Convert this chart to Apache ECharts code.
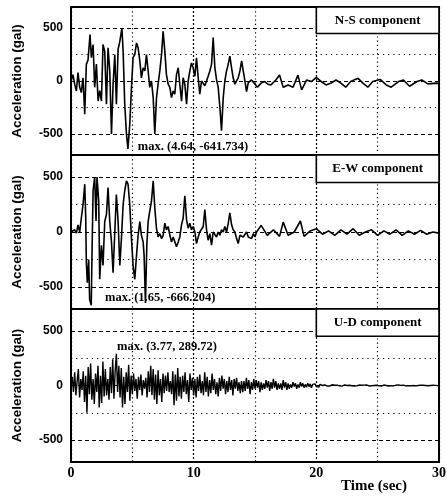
<!DOCTYPE html>
<html>
<head>
<meta charset="utf-8">
<script src="https://cdn.jsdelivr.net/npm/echarts@6/dist/echarts.min.js"></script>
<style>html,body{margin:0;padding:0;background:#fff;}#c{width:447px;height:497px;}</style>
</head>
<body>
<div id="c"></div>
<script>
// ---------- data ----------
const panelNames = ['N-S component', 'E-W component', 'U-D component'];
const maxLabels = ['max. (4.64, -641.734)', 'max. (1.65, -666.204)', 'max. (3.77, 289.72)'];
const xTicks = [0, 10, 20, 30];
const yTickLabels = [-500, 0, 500];

const nsData = [
[0.00,0],[0.16,60],[0.30,-30],[0.44,-95],[0.57,80],[0.71,-60],[0.84,-110],[0.98,30],[1.12,-315],[1.25,157],[1.39,200],[1.55,440],[1.66,220],[1.80,345],[1.93,-60],[2.07,160],[2.21,-190],[2.34,-90],[2.48,-190],[2.61,345],[2.75,280],[2.89,-220],[3.02,315],[3.16,95],[3.30,-500],[3.43,-30],[3.57,250],[3.70,-220],[3.84,300],[3.98,375],[4.15,500],[4.25,280],[4.38,-220],[4.52,-500],[4.64,-641.734],[4.79,-410],[4.93,-60],[5.06,220],[5.20,250],[5.34,360],[5.47,315],[5.61,190],[5.74,30],[5.88,125],[6.02,95],[6.15,250],[6.29,95],[6.42,-60],[6.56,0],[6.70,-157],[6.83,-500],[6.97,-157],[7.10,-30],[7.24,95],[7.38,250],[7.51,470],[7.65,280],[7.78,60],[7.92,-30],[8.06,-60],[8.19,-157],[8.33,-95],[8.46,-125],[8.60,60],[8.74,125],[8.87,-30],[9.01,-190],[9.14,30],[9.28,-30],[9.42,-220],[9.55,0],[9.69,95],[9.82,170],[9.96,125],[10.10,45],[10.23,220],[10.37,30],[10.50,-125],[10.64,0],[10.78,15],[10.91,-45],[11.05,0],[11.18,45],[11.32,95],[11.46,160],[11.59,410],[11.73,125],[11.86,15],[12.00,-60],[12.14,-250],[12.27,-470],[12.41,-157],[12.54,0],[12.68,95],[12.82,160],[12.95,235],[13.09,125],[13.22,30],[13.36,-30],[13.50,-30],[13.63,30],[13.77,95],[13.91,190],[14.04,95],[14.18,0],[14.31,-100],[14.45,-15],[14.59,-30],[14.72,10],[14.86,0],[15.20,-60],[15.50,-20],[15.80,-5],[16.05,-30],[16.30,-37],[16.70,10],[17.00,56],[17.30,-59],[17.70,-37],[18.10,-59],[18.50,56],[18.80,-84],[19.20,9],[19.60,-5],[20.00,35],[20.40,-5],[20.80,-37],[21.20,-20],[21.60,9],[22.00,-20],[22.40,-59],[22.80,-5],[23.40,25],[23.80,-20],[24.20,-59],[24.60,-5],[25.20,15],[25.70,-37],[26.10,-59],[26.70,-5],[27.10,9],[27.60,-50],[28.20,-5],[28.60,9],[29.10,-27],[29.80,-20],[30.00,-25]
];

const ewData = [
[0.00,0],[0.15,-10],[0.30,20],[0.44,-10],[0.57,65],[0.71,0],[0.84,125],[0.98,250],[1.12,435],[1.20,130],[1.25,-275],[1.33,-460],[1.44,-250],[1.52,-615],[1.65,-666.204],[1.71,-220],[1.80,375],[1.93,500],[2.04,100],[2.12,500],[2.26,280],[2.34,-430],[2.48,-120],[2.61,-305],[2.75,95],[2.89,160],[3.02,405],[3.16,95],[3.30,-90],[3.43,-370],[3.57,0],[3.70,340],[3.84,95],[3.98,-305],[4.11,-60],[4.25,250],[4.38,375],[4.52,465],[4.65,435],[4.79,250],[4.93,-60],[5.06,-305],[5.20,-430],[5.34,-215],[5.47,-30],[5.61,95],[5.74,-30],[5.88,-90],[5.96,-215],[6.07,-645],[6.18,-120],[6.29,95],[6.42,190],[6.56,280],[6.70,465],[6.83,220],[6.97,30],[7.10,-45],[7.24,-15],[7.38,-60],[7.51,-30],[7.65,80],[7.78,20],[7.92,50],[8.06,-30],[8.19,-90],[8.33,-45],[8.46,-30],[8.60,-135],[8.74,-90],[8.87,-45],[9.01,65],[9.14,125],[9.28,330],[9.42,110],[9.55,35],[9.69,80],[9.82,20],[9.96,50],[10.10,0],[10.23,-105],[10.37,-45],[10.50,0],[10.64,-15],[10.78,50],[10.91,205],[11.05,20],[11.18,-75],[11.32,-15],[11.46,-120],[11.59,0],[11.73,-15],[11.86,-45],[12.00,0],[12.14,-30],[12.27,20],[12.41,0],[12.54,50],[12.68,0],[12.82,80],[12.95,175],[13.09,65],[13.22,20],[13.36,0],[13.50,-60],[13.63,-105],[13.77,-30],[13.91,-15],[14.04,-45],[14.18,-30],[14.31,0],[14.45,-45],[14.59,-30],[14.72,-60],[14.86,-15],[14.99,-45],[15.13,0],[15.50,60],[16.00,-30],[16.50,20],[17.00,-40],[17.30,90],[17.70,-30],[18.20,0],[18.70,100],[19.00,-40],[19.50,10],[20.00,30],[20.50,-20],[21.00,10],[21.50,-30],[22.00,20],[22.50,-20],[23.00,30],[23.50,-30],[24.00,0],[24.50,20],[25.00,-30],[25.50,10],[26.00,-20],[26.50,20],[27.00,-30],[27.50,10],[28.00,-20],[28.50,15],[29.00,-20],[29.50,0],[30.00,-10]
];

// U-D record, sampled every 0.1 s from t = 0
const udStep = 0.1;
const udValues = [
0,80,-60,120,-90,40,150,-110,60,-40,
130,-150,90,-250,170,-80,200,-130,60,-170,
110,-60,180,-200,90,-160,220,-100,150,-90,
60,-130,170,-70,240,-120,130,289.72,-60,180,
-110,160,-200,80,-170,120,-60,190,-140,90,
-80,110,-50,60,-120,80,-40,100,-90,50,
-30,70,-110,130,-60,180,-90,150,-130,100,
-170,140,-90,60,-150,110,-70,90,-50,120,
-60,40,-80,130,-180,100,-140,160,-100,80,
-120,90,-60,120,-80,50,-150,110,-40,70,
-90,60,-110,80,-50,100,-70,40,-90,120,
-60,80,-100,50,-70,110,-40,60,-80,30,
-100,70,-50,90,-30,60,-80,40,-60,80,
-40,50,-90,60,-30,70,-50,30,-70,40,
-60,40,-50,70,-30,50,-80,30,-40,60,
-30,50,-20,40,-60,30,-40,20,-30,50,
-20,40,-50,30,-30,60,-20,40,-40,20,
-30,20,-40,50,-20,30,-40,20,-30,10,
-20,30,-10,20,-30,10,-20,30,-10,20,
-20,10,-15,20,-10,15,-20,10,-5,15,
-10,5,-15,10,-5,0,-10,5,0,-5,
5,-5,0,8,-4,2,-6,3,0,-3,
4,-6,2,5,-3,0,-5,2,4,-2,
3,-4,6,-2,0,4,-5,2,-1,3,
-3,5,0,-4,3,-2,4,0,-3,2,
6,-3,2,-5,1,4,-2,0,3,-4,
2,-1,4,-3,0,3,-2,5,-4,1,
-2,3,0,-4,2,-1,3,-3,1,0,
2,-3,1,0,-2,3,-1,2,-3,0,
1,-2,2,0,-1,2,-2,1,0,-1,
0
];
const udData = udValues.map((v, i) => [+(i * udStep).toFixed(2), v]);
const traces = [nsData, ewData, udData];

// ---------- layout ----------
const gridBoxes = [{top: 7, height: 148}, {top: 155, height: 154}, {top: 309, height: 153}];
const maxLabelAnchors = [[5.45, -625], [2.77, -600], [3.75, 352]];
const serif = 'Liberation Serif';
const sans = 'Liberation Sans';

const chart = echarts.init(document.getElementById('c'), null, {renderer: 'canvas'});

const grid = gridBoxes.map(g => ({
  left: 71, right: 8, top: g.top, height: g.height,
  show: true, borderColor: '#000', borderWidth: 2, backgroundColor: 'transparent',
  outerBoundsMode: 'none'
}));

const xAxis = gridBoxes.map((g, i) => ({
  type: 'value', gridIndex: i, min: 0, max: 30, interval: 10,
  axisLine: {show: false}, axisTick: {show: false},
  axisLabel: {show: i === 2, customValues: xTicks, color: '#000', fontFamily: serif, fontWeight: 'bold', fontSize: 14, margin: 4},
  splitLine: {show: true, lineStyle: {color: '#000', type: [2, 2], width: 1.2}},
  minorTick: {show: true, splitNumber: 2, length: 0},
  minorSplitLine: {show: true, lineStyle: {color: '#000', type: [1.2, 3], width: 1.2}}
}));

const yAxis = gridBoxes.map((g, i) => ({
  type: 'value', gridIndex: i, min: -700, max: 700,
  axisLine: {show: false}, axisTick: {show: false}, splitLine: {show: false},
  axisLabel: {customValues: yTickLabels, color: '#000', fontFamily: sans, fontWeight: 'bold', fontSize: 12, margin: 8},
  name: 'Acceleration (gal)', nameLocation: 'middle', nameGap: 47, nameRotate: 90,
  nameTextStyle: {color: '#000', fontFamily: sans, fontWeight: 'bold', fontSize: 13.5}
}));

const series = [];
gridBoxes.forEach((g, i) => {
  series.push({
    type: 'line', xAxisIndex: i, yAxisIndex: i, data: [[0, 0]], symbol: 'none', silent: true,
    lineStyle: {opacity: 0}, animation: false,
    markLine: {
      silent: true, symbol: ['none', 'none'], z: 1, animation: false, label: {show: false},
      data: [
        {yAxis: 500, lineStyle: {color: '#000', type: [4, 3], width: 1.2}},
        {yAxis: 0, lineStyle: {color: '#000', type: [4, 3], width: 1.2}},
        {yAxis: -500, lineStyle: {color: '#000', type: [4, 3], width: 1.2}},
        {yAxis: 250, lineStyle: {color: '#000', type: [1.2, 4], width: 1.2}},
        {yAxis: -250, lineStyle: {color: '#000', type: [1.2, 4], width: 1.2}}
      ]
    },
    markArea: {
      silent: true, z: 1.5, animation: false,
      itemStyle: {color: '#fff', borderColor: '#000', borderWidth: 1.6, opacity: 1},
      label: {show: true, position: 'inside', color: '#000', fontFamily: serif, fontWeight: 'bold', fontSize: 13, formatter: panelNames[i]},
      data: [[{xAxis: 20, yAxis: 700}, {xAxis: 30, yAxis: 450}]]
    },
    markPoint: {
      silent: true, animation: false, symbol: 'circle', symbolSize: 0,
      label: {show: true, position: 'right', distance: 0, color: '#000', fontFamily: serif, fontWeight: 'bold', fontSize: 12.5, formatter: maxLabels[i]},
      data: [{coord: maxLabelAnchors[i]}]
    }
  });
  series.push({
    type: 'line', xAxisIndex: i, yAxisIndex: i, data: traces[i], showSymbol: false, symbol: 'none',
    lineStyle: {color: '#000', width: i === 2 ? 1.4 : 1.6}, animation: false, silent: true, z: 3
  });
});

chart.setOption({
  animation: false,
  backgroundColor: '#fff',
  title: {text: 'Time (sec)', left: 341, top: 479, padding: 0,
    textStyle: {color: '#000', fontFamily: serif, fontWeight: 'bold', fontSize: 15}},
  grid, xAxis, yAxis, series
});
</script>
</body>
</html>
